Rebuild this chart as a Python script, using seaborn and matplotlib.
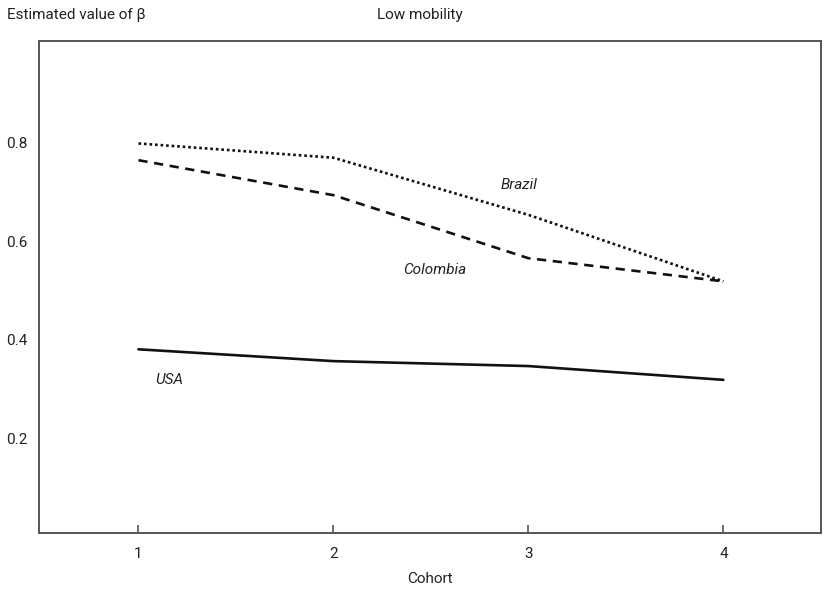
import pandas as pd
import matplotlib
matplotlib.use("Agg")
import matplotlib.pyplot as plt
import seaborn as sns

# Values
cohorts = [1, 2, 3, 4]
brazil = [0.799, 0.770, 0.654, 0.519]
colombia = [0.765, 0.694, 0.566, 0.519]
usa = [0.381, 0.357, 0.347, 0.319]

y_ticks = [0.2, 0.4, 0.6, 0.8]
x_ticks = [1, 2, 3, 4]

sns.set_theme(style="white")
plt.rcParams["font.family"] = ["Roboto", "DejaVu Sans"]

fig = plt.figure(figsize=(8.3, 5.98), dpi=100)
ax = fig.add_axes([0.047, 0.1087, 0.942, 0.8227])

styles = {
    "Brazil": (brazil, (0, (1, 1.1))),
    "Colombia": (colombia, (0, (3.5, 2.5))),
    "USA": (usa, "-"),
}
for name, (vals, ls) in styles.items():
    df = pd.DataFrame({"Cohort": cohorts, "beta": vals})
    sns.lineplot(data=df, x="Cohort", y="beta", ax=ax, color="#111111",
                 linestyle=ls, linewidth=1.9, legend=False)

# Series labels
ax.text(2.95, 0.715, "Brazil", style="italic", fontsize=11, ha="center", va="center", color="#222222")
ax.text(2.52, 0.542, "Colombia", style="italic", fontsize=11, ha="center", va="center", color="#222222")
ax.text(1.16, 0.319, "USA", style="italic", fontsize=11, ha="center", va="center", color="#222222")

ax.set_xlim(0.49, 4.5)
ax.set_ylim(0.008, 1.007)
ax.set_xticks(x_ticks)
ax.set_xticklabels([str(x) for x in x_ticks])
ax.set_yticks(y_ticks)
ax.set_yticklabels([f"{y:.1f}" for y in y_ticks])

ax.tick_params(axis="x", direction="in", length=6, width=1.2, color="#555555",
               labelsize=11, pad=10, labelcolor="#222222", bottom=True)
ax.tick_params(axis="y", length=0, labelsize=11, pad=8, labelcolor="#222222")

for side in ax.spines.values():
    side.set_visible(True)
    side.set_color("#555555")
    side.set_linewidth(1.4)

ax.set_xlabel("Cohort", fontsize=11, color="#222222", labelpad=8)
ax.set_ylabel("")

fig.text(0.009, 0.975, "Estimated value of β", fontsize=11, ha="left", va="center", color="#222222")
fig.text(0.506, 0.975, "Low mobility", fontsize=11, ha="center", va="center", color="#222222")

fig.savefig("out.png", dpi=100)
